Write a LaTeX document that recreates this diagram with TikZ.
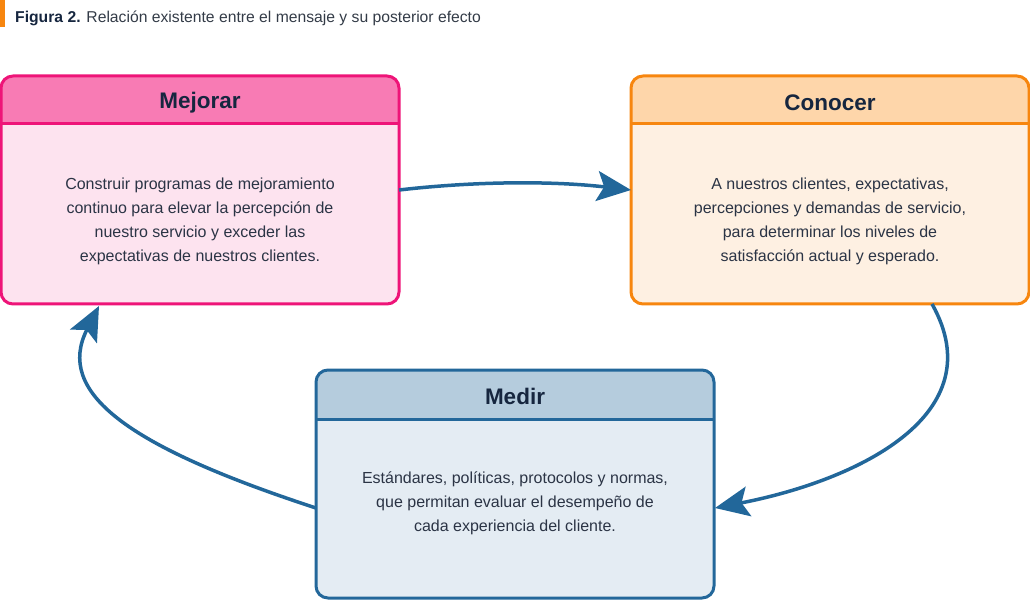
\documentclass[tikz,border=0pt]{standalone}
\usepackage{fontspec}
\setmainfont{Liberation Sans}
\usetikzlibrary{arrows.meta,calc}
\pgfdeclarelayer{bg}
\pgfsetlayers{bg,main}
\definecolor{pinkB}{HTML}{EE1478}
\definecolor{pinkH}{HTML}{F87BB4}
\definecolor{pinkL}{HTML}{FDE3EF}
\definecolor{orB}{HTML}{F7860F}
\definecolor{orH}{HTML}{FED6AA}
\definecolor{orL}{HTML}{FEF0E2}
\definecolor{blB}{HTML}{23679A}
\definecolor{blH}{HTML}{B5CCDD}
\definecolor{blL}{HTML}{E4ECF3}
\definecolor{arr}{HTML}{22679A}
\definecolor{navy}{HTML}{16263F}
\definecolor{bodytxt}{HTML}{2B3445}
\definecolor{titletxt}{HTML}{333B47}
\definecolor{barOr}{HTML}{F7860F}
\tikzset{
  card/.style={rectangle, rounded corners=12pt, line width=3pt, outer sep=0pt,
    minimum width=398pt, minimum height=228pt, inner sep=0pt},
  hdrtxt/.style={font=\fontsize{22.5}{27}\selectfont\bfseries, text=navy, inner sep=0pt},
  bodytext/.style={font=\fontsize{16}{24}\selectfont, text=bodytxt, align=center, inner sep=0pt},
  flow/.style={draw=arr, line width=3.5pt, -{Stealth[length=34pt, width=30pt, inset=7pt]}},
}
\begin{document}
\begin{tikzpicture}[x=1pt,y=-1pt]
\useasboundingbox (0,0) rectangle (1030,601);
% title
\fill[barOr] (0,0) rectangle (4.5,27);
\node[anchor=base west, inner sep=0pt, font=\fontsize{15.7}{19}\selectfont] (title) at (15,22.5)
  {\textcolor{navy}{\bfseries Figura 2.} \textcolor{titletxt}{Relación existente entre el mensaje y su posterior efecto}};

% boxes
\node[card, draw=pinkB] (mej) at (200,190) {};
\node[card, draw=orB] (con) at (830,190) {};
\node[card, draw=blB] (med) at (515,484) {};

\begin{pgfonlayer}{bg}
  \fill[pinkL, rounded corners=12pt] (mej.north west) rectangle (mej.south east);
  \begin{scope}
    \clip[rounded corners=12pt] (mej.north west) rectangle (mej.south east);
    \fill[pinkH] (mej.north west) rectangle ([yshift=-48pt]mej.north east);
  \end{scope}
  \fill[orL, rounded corners=12pt] (con.north west) rectangle (con.south east);
  \begin{scope}
    \clip[rounded corners=12pt] (con.north west) rectangle (con.south east);
    \fill[orH] (con.north west) rectangle ([yshift=-48pt]con.north east);
  \end{scope}
  \fill[blL, rounded corners=12pt] (med.north west) rectangle (med.south east);
  \begin{scope}
    \clip[rounded corners=12pt] (med.north west) rectangle (med.south east);
    \fill[blH] (med.north west) rectangle ([yshift=-49pt]med.north east);
  \end{scope}
\end{pgfonlayer}
\draw[pinkB, line width=3pt] ([yshift=-48pt]mej.north west) -- ([yshift=-48pt]mej.north east);
\draw[orB, line width=3pt] ([yshift=-48pt]con.north west) -- ([yshift=-48pt]con.north east);
\draw[blB, line width=3pt] ([yshift=-49pt]med.north west) -- ([yshift=-49pt]med.north east);

% headers
\node[hdrtxt] (mejh) at (200,102.5) {Mejorar};
\node[hdrtxt] (conh) at (830,102.5) {Conocer};
\node[hdrtxt] (medh) at (515,396.5) {Medir};

% bodies
\node[bodytext] (mejt) at (200,221) {Construir programas de mejoramiento\\continuo para elevar la percepción de\\nuestro servicio y exceder las\\expectativas de nuestros clientes.};
\node[bodytext] (cont) at (830,221) {A nuestros clientes, expectativas,\\percepciones y demandas de servicio,\\para determinar los niveles de\\satisfacción actual y esperado.};
\node[bodytext] (medt) at (515,503) {Estándares, políticas, protocolos y normas,\\que permitan evaluar el desempeño de\\cada experiencia del cliente.};

% connectors
\draw[flow] (mej.east) .. controls ($(mej.east)+(78,-9)$) and ($(con.west)+(-77,-9)$) .. (con.west);
\coordinate (c2s) at ($(con.south west)+(301,0)$);
\coordinate (c2e) at ($(med.east)+(1,24)$);
\draw[flow] (c2s) .. controls ($(c2s)+(62,110)$) and ($(c2e)+(144,-28)$) .. (c2e);
\coordinate (c3s) at ($(med.west)+(0,24)$);
\coordinate (c3e) at ($(mej.south west)+(98,2)$);
\draw[flow] (c3s) .. controls ($(c3s)+(-190,-62)$) and ($(c3e)+(-44,86)$) .. (c3e);
\end{tikzpicture}
\end{document}
